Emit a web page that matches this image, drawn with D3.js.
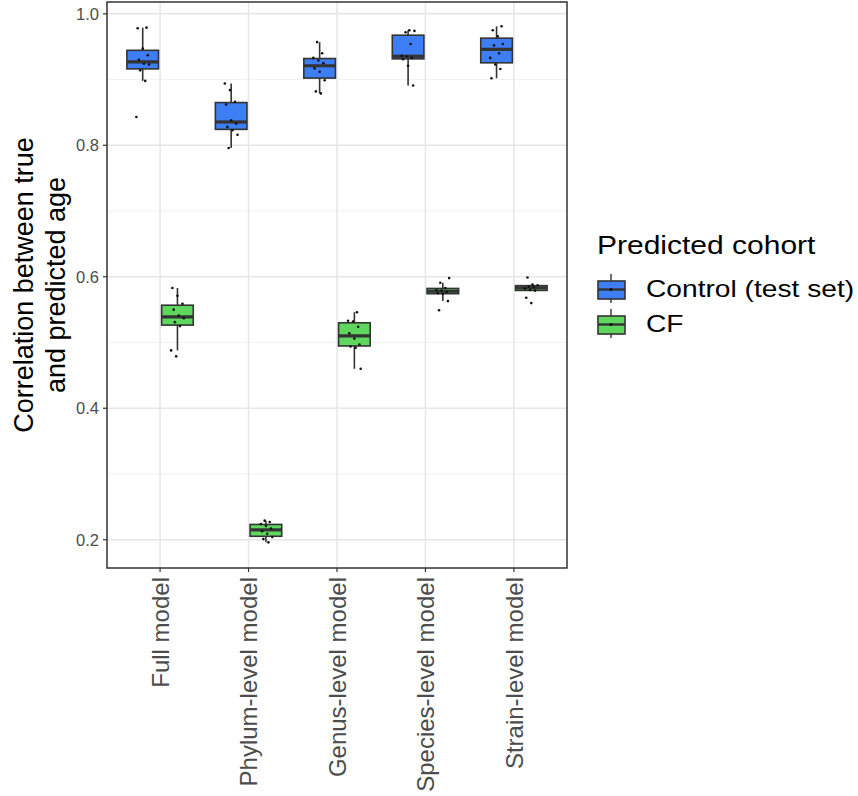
<!DOCTYPE html>
<html>
<head>
<meta charset="utf-8">
<script src="https://cdn.jsdelivr.net/npm/d3@7"></script>
<style>
  html, body { margin: 0; padding: 0; background: #ffffff; }
  svg { display: block; font-family: "Liberation Sans", Arial, sans-serif; }
</style>
</head>
<body>
<svg id="chart" width="858" height="796"></svg>
<script>
// ---------------- data ----------------
const categories = ["Full model", "Phylum-level model", "Genus-level model", "Species-level model", "Strain-level model"];
const cohorts = ["Control (test set)", "CF"];
const cohortColors = ["#3d7ef4", "#5fd75f"];

const controlValues = [
  [0.843, 0.898, 0.914, 0.923, 0.924, 0.930, 0.937, 0.947, 0.978, 0.979],
  [0.796, 0.816, 0.823, 0.828, 0.833, 0.838, 0.862, 0.866, 0.884, 0.894],
  [0.879, 0.882, 0.899, 0.912, 0.917, 0.925, 0.929, 0.933, 0.940, 0.957],
  [0.891, 0.921, 0.931, 0.933, 0.935, 0.936, 0.954, 0.972, 0.974, 0.975],
  [0.902, 0.916, 0.923, 0.933, 0.940, 0.952, 0.954, 0.966, 0.975, 0.981]
];
const cfValues = [
  [0.479, 0.488, 0.525, 0.531, 0.537, 0.541, 0.550, 0.559, 0.571, 0.583],
  [0.196, 0.201, 0.204, 0.209, 0.213, 0.217, 0.221, 0.224, 0.227, 0.229],
  [0.460, 0.492, 0.494, 0.497, 0.506, 0.514, 0.524, 0.532, 0.533, 0.546],
  [0.549, 0.563, 0.574, 0.575, 0.577, 0.579, 0.580, 0.583, 0.591, 0.598],
  [0.560, 0.568, 0.579, 0.580, 0.582, 0.584, 0.585, 0.587, 0.588, 0.599]
];
const yTicks = [0.2, 0.4, 0.6, 0.8, 1.0];
const yMinorTicks = [0.3, 0.5, 0.7, 0.9];
const yTitleLines = ["Correlation between true", "and predicted age"];
const legendTitle = "Predicted cohort";

// ---------------- layout ----------------
const svg = d3.select("#chart");
const panel = { left: 107, right: 567, top: 2, bottom: 568 };

const x = d3.scalePoint().domain(categories).range([panel.left, panel.right]).padding(0.6);
const y = d3.scaleLinear().domain([0.157, 1.018]).range([panel.bottom, panel.top]);
const step = x.step();
const dodge = d3.scaleBand().domain(cohorts).range([-0.375 * step, 0.375 * step]).paddingInner(0.09);
const boxW = dodge.bandwidth();

// grid
const grid = svg.append("g");
grid.selectAll(".minor").data(yMinorTicks).join("line")
  .attr("x1", panel.left).attr("x2", panel.right)
  .attr("y1", d => y(d)).attr("y2", d => y(d))
  .attr("stroke", "#ececec").attr("stroke-width", 0.8);
grid.selectAll(".majory").data(yTicks).join("line")
  .attr("x1", panel.left).attr("x2", panel.right)
  .attr("y1", d => y(d)).attr("y2", d => y(d))
  .attr("stroke", "#e6e6e6").attr("stroke-width", 1.5);
grid.selectAll(".majorx").data(categories).join("line")
  .attr("x1", d => x(d)).attr("x2", d => x(d))
  .attr("y1", panel.top).attr("y2", panel.bottom)
  .attr("stroke", "#e6e6e6").attr("stroke-width", 1.5);

// box stats
function stats(vals) {
  const s = vals.slice().sort(d3.ascending);
  const q1 = d3.quantile(s, 0.25), med = d3.quantile(s, 0.5), q3 = d3.quantile(s, 0.75);
  const iqr = q3 - q1;
  const lo = s.find(v => v >= q1 - 1.5 * iqr);
  const hi = s.slice().reverse().find(v => v <= q3 + 1.5 * iqr);
  return { q1, med, q3, lo, hi, vals: s };
}

const series = [controlValues, cfValues];
const boxes = [];
series.forEach((vals, si) => {
  categories.forEach((c, ci) => {
    boxes.push({ cat: c, cohort: cohorts[si], color: cohortColors[si], ...stats(vals[ci]) });
  });
});

const gBox = svg.append("g");
const bg = gBox.selectAll("g").data(boxes).join("g")
  .attr("transform", d => `translate(${x(d.cat) + dodge(d.cohort) + boxW / 2},0)`);

bg.append("line").attr("x1", 0).attr("x2", 0)
  .attr("y1", d => y(d.hi)).attr("y2", d => y(d.q3))
  .attr("stroke", "#333333").attr("stroke-width", 1.6);
bg.append("line").attr("x1", 0).attr("x2", 0)
  .attr("y1", d => y(d.q1)).attr("y2", d => y(d.lo))
  .attr("stroke", "#333333").attr("stroke-width", 1.6);
bg.append("rect")
  .attr("x", -boxW / 2).attr("width", boxW)
  .attr("y", d => y(d.q3)).attr("height", d => y(d.q1) - y(d.q3))
  .attr("fill", d => d.color).attr("stroke", "#333333").attr("stroke-width", 1.6);
bg.append("line").attr("x1", -boxW / 2).attr("x2", boxW / 2)
  .attr("y1", d => y(d.med)).attr("y2", d => y(d.med))
  .attr("stroke", "#333333").attr("stroke-width", 3.2);

// jittered points (deterministic offsets)
bg.each(function(d, bi) {
  d3.select(this).selectAll("circle").data(d.vals).join("circle")
    .attr("cx", (v, i) => (((i * 7 + bi * 3) % 11) / 10 - 0.5) * boxW * 0.4)
    .attr("cy", v => y(v))
    .attr("r", 1.3)
    .attr("fill", "#111111");
});

// panel border
svg.append("rect")
  .attr("x", panel.left).attr("y", panel.top)
  .attr("width", panel.right - panel.left).attr("height", panel.bottom - panel.top)
  .attr("fill", "none").attr("stroke", "#333333").attr("stroke-width", 1.5);

// y axis
const yAxis = svg.append("g");
yAxis.selectAll("line").data(yTicks).join("line")
  .attr("x1", panel.left - 4).attr("x2", panel.left)
  .attr("y1", d => y(d)).attr("y2", d => y(d))
  .attr("stroke", "#333333").attr("stroke-width", 1.2);
yAxis.selectAll("text").data(yTicks).join("text")
  .attr("x", panel.left - 8).attr("y", d => y(d))
  .attr("dy", "0.35em").attr("text-anchor", "end")
  .attr("font-size", 16.5).attr("fill", "#4d4d4d")
  .text(d3.format(".1f"));

// x axis
const xAxis = svg.append("g");
xAxis.selectAll("line").data(categories).join("line")
  .attr("x1", d => x(d)).attr("x2", d => x(d))
  .attr("y1", panel.bottom).attr("y2", panel.bottom + 4)
  .attr("stroke", "#333333").attr("stroke-width", 1.2);
xAxis.selectAll("text").data(categories).join("text")
  .attr("transform", d => `translate(${x(d)},${panel.bottom + 9}) rotate(-90)`)
  .attr("text-anchor", "end").attr("dy", "0.36em")
  .attr("font-size", 24).attr("fill", "#4d4d4d")
  .text(d => d);

// y title
const yt = svg.append("text")
  .attr("transform", `translate(0,${(panel.top + panel.bottom) / 2}) rotate(-90)`)
  .attr("text-anchor", "middle").attr("font-size", 27).attr("fill", "#000000");
yt.selectAll("tspan").data(yTitleLines).join("tspan")
  .attr("x", 0).attr("y", (d, i) => 33 + i * 32)
  .text(d => d);

// legend
const lg = svg.append("g").attr("transform", "translate(597,0)");
lg.append("text").attr("x", 0).attr("y", 254)
  .attr("font-size", 25).attr("fill", "#000")
  .attr("transform", "scale(1.2,1)")
  .text(legendTitle);
const keys = lg.selectAll("g.key").data(cohorts).join("g")
  .attr("transform", (d, i) => `translate(0,${274 + i * 35})`);
keys.append("line").attr("x1", 14).attr("x2", 14).attr("y1", 0).attr("y2", 29)
  .attr("stroke", "#333333").attr("stroke-width", 1.4);
keys.append("rect").attr("x", 1).attr("y", 7).attr("width", 27).attr("height", 18)
  .attr("fill", (d, i) => cohortColors[i]).attr("stroke", "#333333").attr("stroke-width", 1.6);
keys.append("line").attr("x1", 1).attr("x2", 28).attr("y1", 15.5).attr("y2", 15.5)
  .attr("stroke", "#333333").attr("stroke-width", 2.4);
keys.append("circle").attr("cx", 14).attr("cy", 15.5).attr("r", 1.5).attr("fill", "#111");
keys.append("text").attr("x", 0).attr("y", 23)
  .attr("font-size", 23).attr("fill", "#000")
  .attr("transform", "translate(49,0) scale(1.225,1)")
  .text(d => d);
</script>
</body>
</html>
